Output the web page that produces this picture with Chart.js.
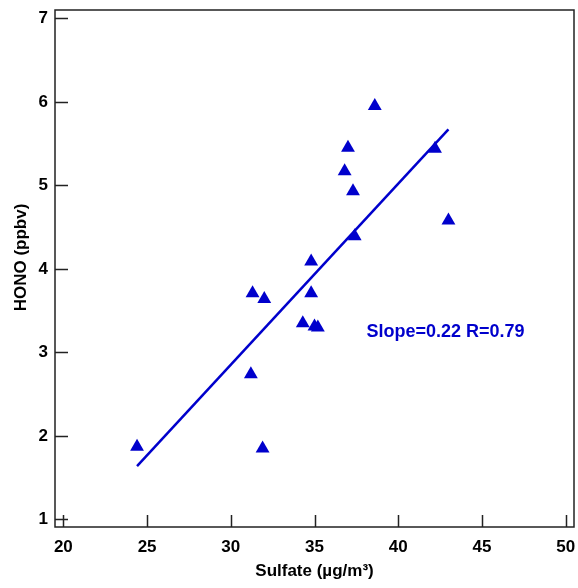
<!DOCTYPE html>
<html>
<head>
<meta charset="utf-8">
<script src="https://cdn.jsdelivr.net/npm/chart.js@4"></script>
<style>
  html, body { margin: 0; padding: 0; background: #fff; }
  #wrap { width: 578px; height: 588px; }
  canvas { display: block; }
</style>
</head>
<body>
<div id="wrap"><canvas id="chart" width="578" height="588"></canvas></div>
<script>
// valores
var sulfate = [24.4, 31.9, 31.2, 31.3, 32.0, 34.3, 35.0, 35.2, 34.8, 34.8, 37.4, 37.3, 36.8, 37.0, 38.6, 42.2, 43.0];
var hono    = [1.87, 1.85, 2.74, 3.71, 3.64, 3.35, 3.31, 3.30, 3.71, 4.09, 4.39, 4.93, 5.17, 5.45, 5.95, 5.44, 4.58];
var fitX = [24.4, 43.0]; // reta de ajuste
var fitY = [1.64, 5.67];
var xTicks = [20, 25, 30, 35, 40, 45, 50];
var yTicks = [1, 2, 3, 4, 5, 6, 7];
var statText = 'Slope=0.22 R=0.79';
var statPos = [38.1, 3.25];
var yTitle = 'HONO (ppbv)';

var blue = '#0000CC';
var fontFam = '"Liberation Sans", Arial, sans-serif';

// marcas de escala para dentro, caixa, rotulos do eixo x e textos
var insideTicks = {
  id: 'insideTicks',
  afterDraw: function(c) {
    var ctx = c.ctx, a = c.chartArea;
    var xs = c.scales.x, ys = c.scales.y;
    ctx.save();
    ctx.strokeStyle = '#222';
    ctx.lineWidth = 1.5;
    ctx.strokeRect(a.left, a.top, a.right - a.left, a.bottom - a.top);
    ctx.beginPath();
    xTicks.forEach(function(v) {
      var px = Math.round(xs.getPixelForValue(v)) + 0.5;
      ctx.moveTo(px, a.bottom);
      ctx.lineTo(px, a.bottom - 12);
    });
    yTicks.forEach(function(v) {
      var py = Math.round(ys.getPixelForValue(v)) + 0.5;
      ctx.moveTo(a.left, py);
      ctx.lineTo(a.left + 13, py);
    });
    ctx.stroke();
    // rotulos do eixo x (desenhados aqui para nao empurrar a area do grafico)
    ctx.fillStyle = '#000';
    ctx.font = 'bold 17px ' + fontFam;
    ctx.textAlign = 'center';
    ctx.textBaseline = 'alphabetic';
    xTicks.forEach(function(v) {
      ctx.fillText(String(v), xs.getPixelForValue(v), a.bottom + 25);
    });
    ctx.fillStyle = blue;
    ctx.font = 'bold 18px ' + fontFam;
    ctx.textAlign = 'left';
    ctx.textBaseline = 'middle';
    ctx.fillText(statText, xs.getPixelForValue(statPos[0]), ys.getPixelForValue(statPos[1]));
    // titulo do eixo y (um pouco acima do centro, como no original)
    ctx.fillStyle = '#000';
    ctx.font = 'bold 17px ' + fontFam;
    ctx.textAlign = 'center';
    ctx.translate(21, (a.top + a.bottom) / 2 - 11);
    ctx.rotate(-Math.PI / 2);
    ctx.fillText(yTitle, 0, 0);
    ctx.restore();
  }
};

var ctx = document.getElementById('chart').getContext('2d');
var chart = new Chart(ctx, {
  type: 'scatter',
  data: {
    datasets: [{
      label: 'dados',
      data: sulfate.map(function(x, i) { return { x: x, y: hono[i] }; }),
      pointStyle: 'triangle',
      pointRadius: 8,
      backgroundColor: blue,
      borderColor: blue,
      borderWidth: 0
    }, {
      label: 'ajuste',
      data: fitX.map(function(x, i) { return { x: x, y: fitY[i] }; }),
      showLine: true,
      pointRadius: 0,
      borderColor: blue,
      borderWidth: 2.5,
      fill: false
    }]
  },
  options: {
    responsive: false,
    animation: false,
    events: [],
    layout: { autoPadding: false, padding: { top: 10, right: 4, left: 0, bottom: 0 } },
    plugins: { legend: { display: false }, tooltip: { enabled: false } },
    scales: {
      x: {
        type: 'linear',
        min: 19.5,
        max: 50.5,
        afterBuildTicks: function(s) { s.ticks = xTicks.map(function(v) { return { value: v }; }); },
        afterFit: function(s) { s.height = 61; s.paddingLeft = 0; s.paddingRight = 0; },
        grid: { display: false, drawTicks: false },
        border: { display: false },
        ticks: { display: false },
        title: { display: true, text: 'Sulfate (µg/m³)', color: '#000', padding: { top: 0, bottom: 6 }, font: { family: fontFam, size: 17, weight: 'bold' } }
      },
      y: {
        type: 'linear',
        min: 0.91,
        max: 7.1,
        afterBuildTicks: function(s) { s.ticks = yTicks.map(function(v) { return { value: v }; }); },
        afterFit: function(s) { s.width = 55; s.paddingTop = 0; s.paddingBottom = 0; },
        grid: { display: false, drawTicks: false },
        border: { display: false },
        ticks: { color: '#000', padding: 7, autoSkip: false, font: { family: fontFam, size: 17, weight: 'bold' } },
        title: { display: false }
      }
    }
  },
  plugins: [insideTicks]
});
</script>
</body>
</html>
